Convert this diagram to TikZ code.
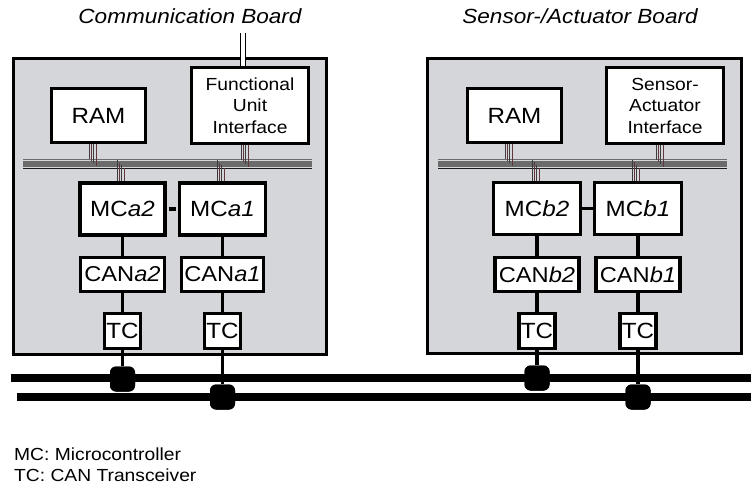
\documentclass[tikz,border=0pt]{standalone}
\usepackage{fontspec}
\setmainfont{Liberation Sans}[FakeStretch=1.1]
\definecolor{boardgray}{RGB}{212,214,217}
\definecolor{dropA}{RGB}{60,60,60}
\definecolor{dropB}{RGB}{95,55,60}
\pgfdeclarelayer{bg}
\pgfsetlayers{bg,main}
\begin{document}
\begin{tikzpicture}[x=1pt,y=-1pt,
  board/.style={draw, line width=3.2pt, fill=boardgray, inner sep=0pt},
  box/.style={draw, line width=3.2pt, fill=white, inner sep=0pt, align=center,
              font=\fontsize{22}{26}\selectfont},
  ifbox/.style={box, minimum width=117pt, minimum height=76pt,
              font=\fontsize{17.5}{21.5}\selectfont},
  mcbox/.style={box, minimum height=52pt},
  canbox/.style={box, minimum height=34pt, font=\fontsize{21.5}{25}\selectfont},
  tcbox/.style={box, minimum width=36pt, minimum height=35pt},
  link/.style={line width=3.8pt},
  canbus/.style={line width=7.5pt},
  plug/.style={fill=black, minimum size=25pt, rounded corners=6pt, inner sep=0pt},
  busline/.style={line width=1.6pt, black!58},
  busbase/.style={line width=1pt, black!90},
  dropline/.style={line width=1pt},
  title/.style={font=\fontsize{20.5}{24}\selectfont\itshape, anchor=base},
  legend/.style={font=\fontsize{17.5}{20}\selectfont, anchor=base west, inner sep=0pt},
  fuiwire/.style={line width=1pt, double=white, double distance=3.5pt}
]
\useasboundingbox (0,0) rectangle (751,487);

% titles
\node[title] (titleA) at (190,24) {Communication Board};
\node[title] (titleB) at (580,24) {Sensor-/Actuator Board};

% boxes of the communication board
\node[box, minimum width=94pt, minimum height=54pt] (ramA) at (98.5,115.5) {RAM};
\node[ifbox] (fuiA) at (250,105.5) {Functional\\Unit\\Interface};
\node[mcbox, minimum width=85pt] (mca2) at (122.5,209) {MC\textit{a2}};
\node[mcbox, minimum width=86pt] (mca1) at (222.5,209) {MC\textit{a1}};
\node[canbox, minimum width=84pt] (cana2) at (122.5,274.5) {CAN\textit{a2}};
\node[canbox, minimum width=82pt] (cana1) at (222.5,274.5) {CAN\textit{a1}};
\node[tcbox] (tca2) at (122.5,331) {TC};
\node[tcbox] (tca1) at (222.5,331) {TC};

% boxes of the sensor/actuator board
\node[box, minimum width=94pt, minimum height=54pt] (ramB) at (514.5,115.5) {RAM};
\node[ifbox] (saiB) at (665,105.5) {Sensor-\\Actuator\\Interface};
\node[mcbox, minimum width=87pt] (mcb2) at (537,208.5) {MC\textit{b2}};
\node[mcbox, minimum width=87pt] (mcb1) at (638,208.5) {MC\textit{b1}};
\node[canbox, minimum width=84pt] (canb2) at (537,274.5) {CAN\textit{b2}};
\node[canbox, minimum width=84pt] (canb1) at (638,274.5) {CAN\textit{b1}};
\node[tcbox] (tcb2) at (537,331) {TC};
\node[tcbox] (tcb1) at (638,331) {TC};

\begin{pgfonlayer}{bg}
  \node[board, minimum width=313pt, minimum height=296pt] (boardA) at (170,206.5) {};
  \node[board, minimum width=314pt, minimum height=295pt] (boardB) at (584.5,206) {};
  % internal buses
  \foreach \yy in {159.5,161.7,163.9,166.1} {
    \draw[busline] (23,\yy) -- (312,\yy);
    \draw[busline] (438,\yy) -- (727,\yy);
  }
  \draw[busbase] (23,168) -- (312,168);
  \draw[busbase] (438,168) -- (727,168);
  % drops from upper boxes to the bus
  \foreach \o/\e/\c in {0/160/dropA, 2.3/162.3/dropB, 4.6/164.6/dropA, 7/167.8/dropB} {
    \draw[dropline, \c] ([xshift={(\o-9.5)*1pt}]ramA.south) -- ++(0,{\e-145.5});
    \draw[dropline, \c] ([xshift={(\o-9)*1pt}]fuiA.south) -- ++(0,{\e-145.5});
    \draw[dropline, \c] ([xshift={(\o-9.5)*1pt}]ramB.south) -- ++(0,{\e-145.5});
    \draw[dropline, \c] ([xshift={(\o-9)*1pt}]saiB.south) -- ++(0,{\e-145.5});
  }
  % drops from the bus to the microcontrollers
  \foreach \o/\s/\c in {0/160/dropA, 2.3/162.3/dropB, 4.6/164.6/dropA, 7/167.8/dropB} {
    \draw[dropline, \c] ([xshift={(\o-5.5)*1pt}]mca2.north) -- ++(0,{\s-181});
    \draw[dropline, \c] ([xshift={(\o-5.5)*1pt}]mca1.north) -- ++(0,{\s-181});
    \draw[dropline, \c] ([xshift={(\o-5)*1pt}]mcb2.north) -- ++(0,{\s-181});
    \draw[dropline, \c] ([xshift={(\o-6)*1pt}]mcb1.north) -- ++(0,{\s-181});
  }
\end{pgfonlayer}

% external wire of the functional unit interface
\coordinate (fuitop) at (243,33);
\draw[fuiwire] (fuitop) -- (fuitop |- fuiA.north);

% internal links
\draw[link, shorten <=2pt, shorten >=2pt] (mca2) -- (mca1);
\draw[link] (mcb2) -- (mcb1);
\draw[link] (mca2) -- (cana2);
\draw[link] (mca1) -- (cana1);
\draw[link] (mcb2) -- (canb2);
\draw[link] (mcb1) -- (canb1);
\draw[link] (cana2) -- (tca2);
\draw[link] (cana1) -- (tca1);
\draw[link] (canb2) -- (tcb2);
\draw[link] (canb1) -- (tcb1);

% CAN bus
\coordinate (busUL) at (11,378);
\coordinate (busUR) at (751,378);
\coordinate (busLL) at (17,397);
\coordinate (busLR) at (751,397);
\node[plug] (conA2) at (122.5,379) {};
\node[plug] (conA1) at (222.5,397) {};
\node[plug] (conB2) at (537,378) {};
\node[plug] (conB1) at (638,397) {};
\draw[link] (tca2) -- (conA2);
\draw[link] (tca1) -- (conA1);
\draw[link] (tcb2) -- (conB2);
\draw[link] (tcb1) -- (conB1);
\draw[canbus] (busUL) -- (busUR);
\draw[canbus] (busLL) -- (busLR);
\node[plug] at (conA2) {};
\node[plug] at (conA1) {};
\node[plug] at (conB2) {};
\node[plug] at (conB1) {};

% legend
\node[legend] (legMC) at (14,460) {MC: Microcontroller};
\node[legend] (legTC) at (14,481) {TC: CAN Transceiver};
\end{tikzpicture}
\end{document}
